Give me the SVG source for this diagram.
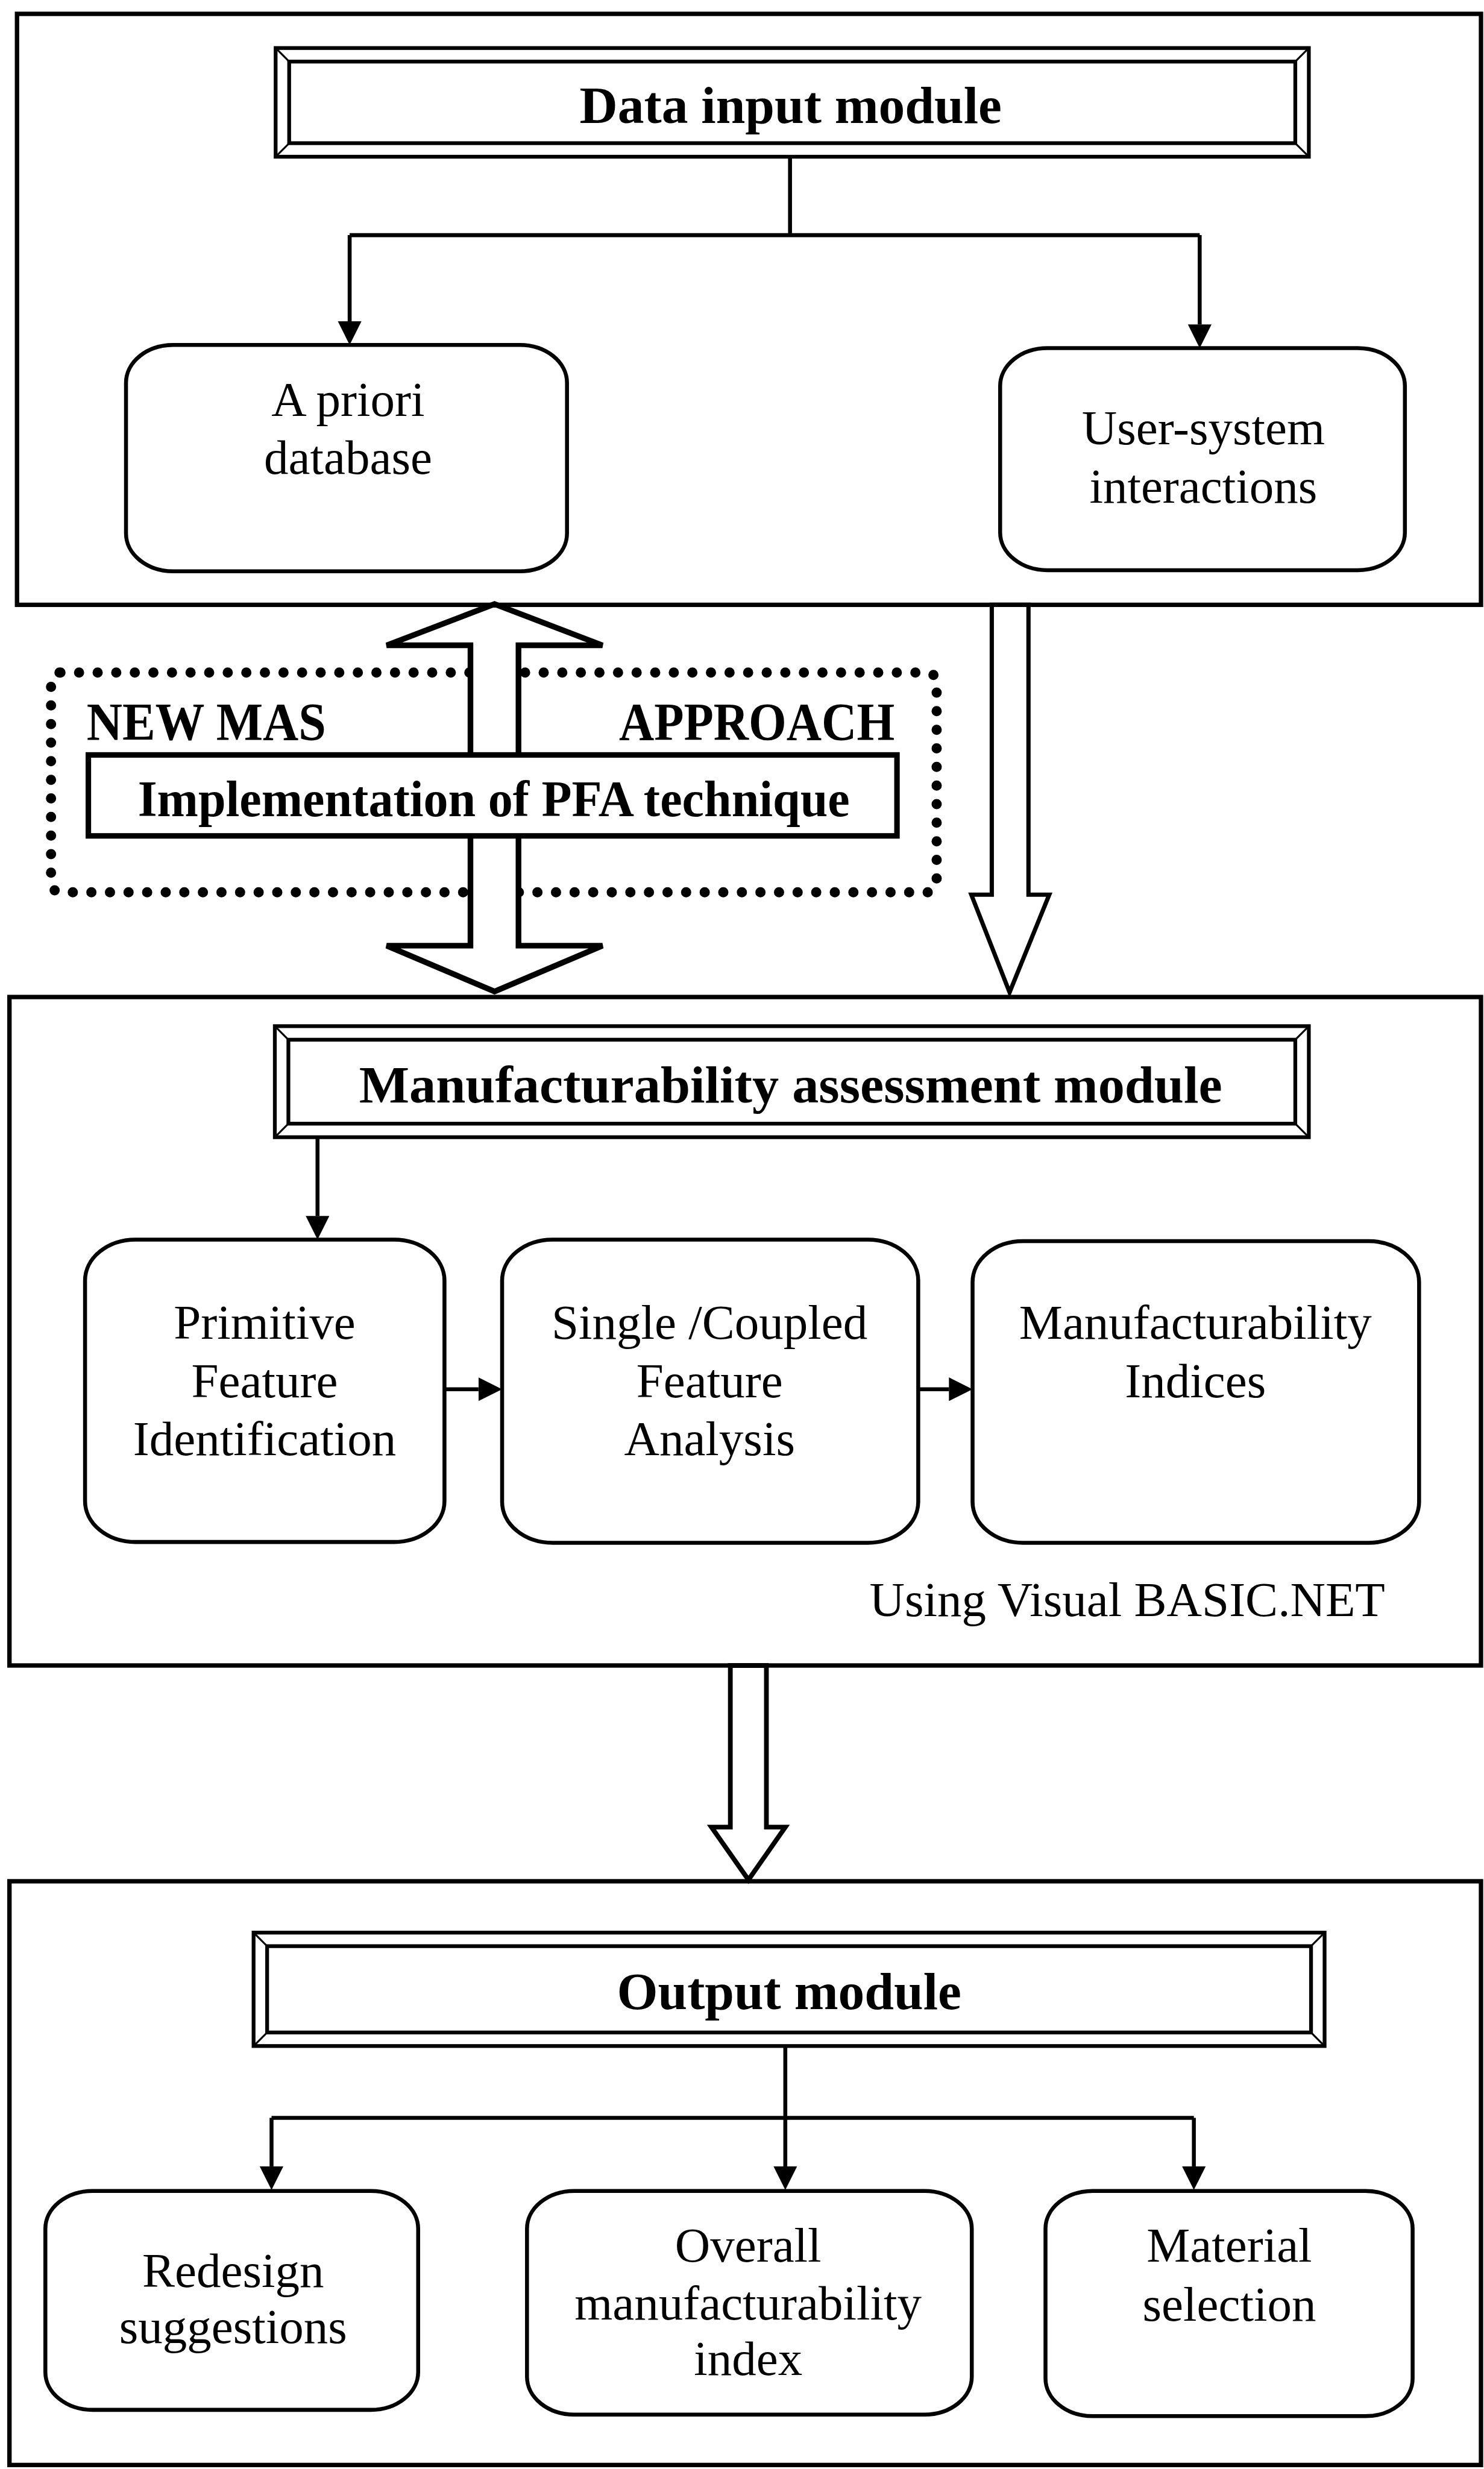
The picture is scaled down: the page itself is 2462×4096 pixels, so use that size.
<svg xmlns="http://www.w3.org/2000/svg" width="2462" height="4096" viewBox="0 0 2462 4096">
<defs>
<style>
.mod{fill:#fff;stroke:#000;stroke-width:2.8}
.rb{fill:#fff;stroke:#000;stroke-width:2.5}
.bev{fill:#fff;stroke:#000;stroke-width:2.4}
.bin{fill:none;stroke:#000;stroke-width:2.4}
.bd{stroke:#000;stroke-width:1.2}
.cn{fill:none;stroke:#000;stroke-width:2.5}
.ha{fill:#fff;stroke:#000;stroke-linejoin:miter}
.t{font-family:"Liberation Serif","Times New Roman",serif;font-size:31px;text-anchor:middle;fill:#000}
.b{font-weight:bold;font-size:33.5px}
.b2{font-weight:bold;font-size:34px;text-anchor:start}
.b3{font-weight:bold;font-size:32.5px;text-anchor:start}
.dots{fill:none;stroke:#000;stroke-width:6.5;stroke-linecap:round;stroke-dasharray:0 11.8}
</style>
<marker id="ah" markerUnits="userSpaceOnUse" markerWidth="15" markerHeight="15" viewBox="0 0 15 15" refX="0" refY="7.5" orient="auto">
<path d="M0,0 L15,7.5 L0,15 Z" fill="#000"/>
</marker>
</defs>
<rect width="2462" height="4096" fill="#fff"/>
<g transform="scale(2.613)">

<g id="module-data-input"><rect class="mod" x="10.8" y="8.8" width="929.5" height="375.2"/></g>
<g id="module-assessment"><rect class="mod" x="6" y="633" width="934.3" height="424.4"/></g>
<g id="module-output"><rect class="mod" x="6" y="1194.4" width="934.3" height="370.6"/></g>

<g id="title-data-input">
<rect class="bev" x="175" y="30.5" width="656" height="69"/>
<rect class="bin" x="183.6" y="39.1" width="638.8" height="51.8"/>
<line class="bd" x1="175" y1="30.5" x2="183.6" y2="39.1"/><line class="bd" x1="831" y1="30.5" x2="822.4" y2="39.1"/>
<line class="bd" x1="175" y1="99.5" x2="183.6" y2="90.9"/><line class="bd" x1="831" y1="99.5" x2="822.4" y2="90.9"/>
<text class="t b" x="502" y="78">Data input module</text>
</g>

<g id="node-apriori">
<rect class="rb" x="80" y="219" width="280" height="143.7" rx="30" ry="24"/>
<text class="t" x="221" y="264">A priori</text>
<text class="t" x="221" y="301">database</text>
</g>

<g id="node-user-system">
<rect class="rb" x="635" y="221" width="257" height="141" rx="30" ry="24"/>
<text class="t" x="764" y="282">User-system</text>
<text class="t" x="764" y="319">interactions</text>
</g>

<g id="new-mas-approach">
<rect class="dots" x="32.4" y="427" width="562.3" height="139.5" rx="6" ry="6"/>
<text class="t b2" x="55" y="469.5" textLength="152" lengthAdjust="spacingAndGlyphs">NEW MAS</text>
<text class="t b2" x="393" y="469.5" textLength="175" lengthAdjust="spacingAndGlyphs">APPROACH</text>
</g>

<g id="connectors">
<path class="cn" d="M501.6,99.5 V149.3 M222,149.3 H761.7"/>
<path class="cn" d="M222,149.3 V204" marker-end="url(#ah)"/>
<path class="cn" d="M761.7,149.3 V206" marker-end="url(#ah)"/>
<path class="cn" d="M201.6,722 V772" marker-end="url(#ah)"/>
<path class="cn" d="M282.2,882 H303.8" marker-end="url(#ah)"/>
<path class="cn" d="M583,882 H602.5" marker-end="url(#ah)"/>
<path class="cn" d="M498.6,1299 V1375.4" marker-end="url(#ah)"/>
<path class="cn" d="M172.4,1344.6 H758"/>
<path class="cn" d="M172.4,1344.6 V1375.4" marker-end="url(#ah)"/>
<path class="cn" d="M758,1344.6 V1375.4" marker-end="url(#ah)"/>
<path class="ha" stroke-width="3.6" d="M314,383.5 L382.5,409.7 L329.2,409.7 L329.2,600.4 L382.5,600.4 L314,629.5 L245.5,600.4 L298.7,600.4 L298.7,409.7 L245.5,409.7 Z"/>
<path class="ha" stroke-width="2.7" d="M629.7,384 L653,384 L653,568 L666.2,568 L641,630 L616.7,568 L629.7,568 Z"/>
<path class="ha" stroke-width="3" d="M463.7,1057.4 L486.6,1057.4 L486.6,1160 L498.6,1160 L475.2,1193.5 L451.7,1160 L463.7,1160 Z"/>
</g>

<g id="pfa-technique">
<rect x="56.1" y="479.3" width="513.4" height="51.4" fill="#fff" stroke="#000" stroke-width="3.5"/>
<text class="t b3" x="87.5" y="518" textLength="452" lengthAdjust="spacingAndGlyphs">Implementation of PFA technique</text>
</g>

<g id="title-assessment">
<rect class="bev" x="174.5" y="651.5" width="656.5" height="70.5"/>
<rect class="bin" x="183.1" y="660.1" width="639.3" height="53.3"/>
<line class="bd" x1="174.5" y1="651.5" x2="183.1" y2="660.1"/><line class="bd" x1="831" y1="651.5" x2="822.4" y2="660.1"/>
<line class="bd" x1="174.5" y1="722" x2="183.1" y2="713.4"/><line class="bd" x1="831" y1="722" x2="822.4" y2="713.4"/>
<text class="t b" x="502" y="700" textLength="548" lengthAdjust="spacingAndGlyphs">Manufacturability assessment module</text>
</g>

<g id="node-primitive">
<rect class="rb" x="54" y="787" width="228.2" height="192" rx="32" ry="26"/>
<text class="t" x="168" y="850">Primitive</text>
<text class="t" x="168" y="887">Feature</text>
<text class="t" x="168" y="924">Identification</text>
</g>

<g id="node-single-coupled">
<rect class="rb" x="318.8" y="787" width="264.2" height="192.5" rx="32" ry="26"/>
<text class="t" x="450.5" y="850">Single /Coupled</text>
<text class="t" x="450.5" y="887">Feature</text>
<text class="t" x="450.5" y="924">Analysis</text>
</g>

<g id="node-indices">
<rect class="rb" x="617.5" y="788" width="283.5" height="191.5" rx="32" ry="26"/>
<text class="t" x="759" y="850">Manufacturability</text>
<text class="t" x="759" y="887">Indices</text>
</g>

<g id="note-vbnet">
<text class="t" x="715.7" y="1026">Using Visual BASIC.NET</text>
</g>

<g id="title-output">
<rect class="bev" x="161" y="1227" width="680" height="72"/>
<rect class="bin" x="169.6" y="1235.6" width="662.8" height="54.8"/>
<line class="bd" x1="161" y1="1227" x2="169.6" y2="1235.6"/><line class="bd" x1="841" y1="1227" x2="832.4" y2="1235.6"/>
<line class="bd" x1="161" y1="1299" x2="169.6" y2="1290.4"/><line class="bd" x1="841" y1="1299" x2="832.4" y2="1290.4"/>
<text class="t b" x="501" y="1275.4">Output module</text>
</g>

<g id="node-redesign">
<rect class="rb" x="28.8" y="1391" width="236.7" height="139" rx="30" ry="24"/>
<text class="t" x="148" y="1452">Redesign</text>
<text class="t" x="148" y="1487.6">suggestions</text>
</g>

<g id="node-overall">
<rect class="rb" x="334.6" y="1391" width="282.4" height="142" rx="30" ry="24"/>
<text class="t" x="475" y="1436">Overall</text>
<text class="t" x="475" y="1472.7">manufacturability</text>
<text class="t" x="475" y="1508">index</text>
</g>

<g id="node-material">
<rect class="rb" x="663.8" y="1391" width="233.1" height="143" rx="30" ry="24"/>
<text class="t" x="780.5" y="1436">Material</text>
<text class="t" x="780.5" y="1473.5">selection</text>
</g>

</g>
</svg>
